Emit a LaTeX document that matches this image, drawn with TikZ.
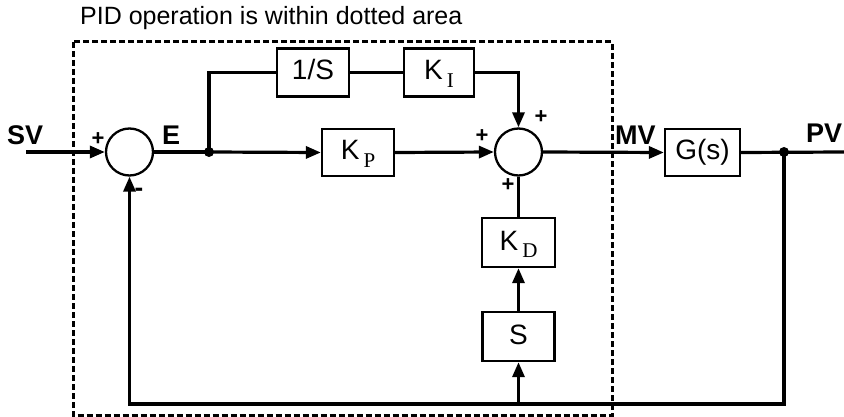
\documentclass[tikz,border=0pt]{standalone}
\usepackage{fontspec}
\setmainfont{Liberation Sans}
\newfontfamily\subserif{Liberation Serif}
\usetikzlibrary{arrows.meta}
\newcommand{\Ksub}[1]{K\hspace{4pt}\raisebox{-8pt}{\subserif\fontsize{21}{21}\selectfont #1}}
\begin{document}
\begin{tikzpicture}[x=1pt,y=1pt,
  blk/.style={draw, line width=2.3pt, minimum height=48pt, inner sep=0pt,
    font=\fontsize{28}{28}\selectfont, text height=15pt, text depth=0pt},
  sumc/.style={circle, draw, line width=2.3pt, minimum size=47pt, inner sep=0pt},
  dotn/.style={circle, fill, minimum size=10pt, inner sep=0pt},
  wire/.style={line width=3.2pt},
  arr/.style={wire, -{Triangle[length=15pt,width=12pt]}},
  lbl/.style={font=\fontsize{27}{27}\selectfont\bfseries, anchor=base west, inner sep=0pt},
  sgn/.style={font=\fontsize{22}{22}\selectfont\bfseries, inner sep=0pt},
  frame/.style={line width=3pt, dash pattern=on 6pt off 3pt},
]
\useasboundingbox (0,0) rectangle (844,-417);

% title and dotted frame
\node[anchor=base west, inner sep=0pt, font=\fontsize{25}{25}\selectfont] (title) at (80,-25) {PID operation is within dotted area};
\draw[frame] (73,-42) rectangle (612,-415.5);

% blocks
\node[sumc] (sum1) at (129.5,-152) {};
\node[sumc] (sum2) at (518.5,-152) {};
\node[blk, minimum width=72pt] (inv) at (313,-72.5) {1/S};
\node[blk, minimum width=70pt] (ki) at (439,-72.5) {\Ksub{I}};
\node[blk, minimum width=72pt, minimum height=47pt] (kp) at (358,-152.5) {\Ksub{P}};
\node[blk, minimum width=75pt, minimum height=47pt] (gs) at (702.5,-152.5) {G(s)};
\node[blk, minimum width=73pt, minimum height=49pt] (kd) at (518.5,-242.5) {\Ksub{D}};
\node[blk, minimum width=72pt, minimum height=49pt] (sb) at (518.5,-336.5) {S};
\node[dotn] (d1) at (209,-152) {};
\node[dotn] (d2) at (784,-152) {};
\coordinate (svin) at (26,-152);
\coordinate (pvout) at (844,-152);
\coordinate (fbr) at (784,-404);

% connectors
\draw[arr] (svin) -- (sum1.west);
\draw[wire] (sum1.east) -- (d1.center);
\draw[arr] (d1.center) -- (kp.west);
\draw[wire] (d1.center) |- (inv.west);
\draw[wire] (inv.east) -- (ki.west);
\draw[arr] (ki.east) -| (sum2.north);
\draw[arr] (kp.east) -- (sum2.west);
\draw[arr] (sum2.east) -- (gs.west);
\draw[wire] (gs.east) -- (pvout);
\draw[wire] (kd.north) -- (sum2.south);
\draw[arr] (sb.north) -- (kd.south);
\draw[arr] (sb.south |- fbr) -- (sb.south);
\draw[arr] (d2.center) -- (fbr) -- (sum1.south |- fbr) -- (sum1.south);

% labels
\node[lbl] (sv) at (7,-145) {SV};
\node[lbl] (e) at (162,-145) {E};
\node[lbl] (mv) at (615,-145) {MV};
\node[lbl] (pv) at (806,-143) {PV};
\node[sgn] (p1) at (98,-139) {+};
\node[sgn, font=\fontsize{26}{26}\selectfont\bfseries] (m1) at (139,-192) {-};
\node[sgn] (p2) at (482,-136) {+};
\node[sgn] (p3) at (541,-117) {+};
\node[sgn] (p4) at (508,-185) {+};
\end{tikzpicture}
\end{document}
